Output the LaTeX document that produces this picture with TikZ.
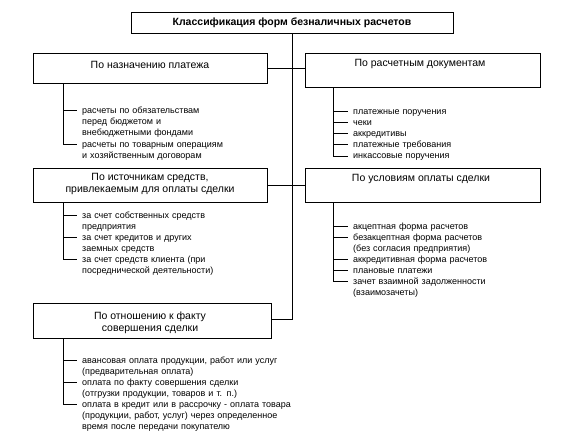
\documentclass[tikz,border=0pt]{standalone}
\usepackage{fontspec}
\setmainfont{Liberation Sans}
\usetikzlibrary{calc}
\newcommand\itick[2]{\draw[conn] ($(#1 |- #2.base)+(0,-2.7)$) -- ($(#2.base west)+(-5,-2.7)$);}
\begin{document}
\begin{tikzpicture}[x=1pt,y=-1pt,
  box/.style={draw, line width=0.9pt, inner sep=0pt, anchor=north west},
  ttl/.style={font=\fontsize{10.5}{12.5}\selectfont, align=center, inner sep=0pt},
  itm/.style={font=\fontsize{9}{11}\selectfont, text width=240pt, align=left, inner sep=0pt, anchor=base west},
  conn/.style={line width=0.8pt}]
\useasboundingbox (0,0) rectangle (574,444);

% main box
\node[box, anchor=center, minimum width=322pt, minimum height=21pt,
      font=\bfseries\fontsize{10.5}{12}\selectfont] (top) at (292,22.5) {Классификация форм безналичных расчетов};

% category boxes
\node[box, minimum width=234pt, minimum height=30pt] (b1) at (33,53) {};
\node[box, minimum width=235pt, minimum height=34pt] (b2) at (305,53) {};
\node[box, minimum width=234pt, minimum height=34pt] (b3) at (33,168) {};
\node[box, minimum width=235pt, minimum height=34pt] (b4) at (305,168) {};
\node[box, minimum width=238pt, minimum height=35pt] (b5) at (33,303) {};

\node[ttl] (t1) at (150,65) {По назначению платежа};
\node[ttl] (t2) at (420,63.5) {По расчетным документам};
\node[ttl] (t3) at (150,184) {По источникам средств,\\привлекаемым для оплаты сделки};
\node[ttl] (t4) at (421,179) {По условиям оплаты сделки};
\node[ttl, font=\fontsize{10.5}{12}\selectfont] (t5) at (150,323) {По отношению к факту\\совершения сделки};

% trunk and branches
\coordinate (j5) at (292,319);
\draw[conn] (top.south) -- (j5) -- (j5 -| b5.east);
\draw[conn] (b1.east) -- (b2.west |- b1.east);
\draw[conn] (b3.east) -- (b4.west |- b3.east);

% vertical guide coordinates
\coordinate (vl) at (63,0);
\coordinate (vr) at (333,0);

% list 1
\node[itm] (i11) at (82,113.5) {расчеты по обязательствам\\перед бюджетом и\\внебюджетными фондами};
\node[itm] (i12) at (82,147.5) {расчеты по товарным операциям\\и хозяйственным договорам};
\draw[conn] (vl |- b1.south) |- ($(i12.base west)+(-5,-2.7)$);
\itick{vl}{i11}

% list 2
\node[itm] (i21) at (353,114.5) {платежные поручения};
\node[itm] (i22) at (353,125.5) {чеки};
\node[itm] (i23) at (353,136.5) {аккредитивы};
\node[itm] (i24) at (353,147.5) {платежные требования};
\node[itm] (i25) at (353,159) {инкассовые поручения};
\draw[conn] (vr |- b2.south) |- ($(i25.base west)+(-5,-2.7)$);
\itick{vr}{i21}\itick{vr}{i22}\itick{vr}{i23}\itick{vr}{i24}

% list 3
\node[itm] (i31) at (82,218.5) {за счет собственных средств\\предприятия};
\node[itm] (i32) at (82,240.5) {за счет кредитов и других\\заемных средств};
\node[itm] (i33) at (82,262) {за счет средств клиента (при\\посреднической деятельности)};
\draw[conn] (vl |- b3.south) |- ($(i33.base west)+(-5,-2.7)$);
\itick{vl}{i31}\itick{vl}{i32}

% list 4
\node[itm] (i41) at (353,229.5) {акцептная форма расчетов};
\node[itm] (i42) at (353,240.5) {безакцептная форма расчетов\\(без согласия предприятия)};
\node[itm] (i43) at (353,262) {аккредитивная форма расчетов};
\node[itm] (i44) at (353,273) {плановые платежи};
\node[itm] (i45) at (353,284) {зачет взаимной задолженности\\(взаимозачеты)};
\draw[conn] (vr |- b4.south) |- ($(i45.base west)+(-5,-2.7)$);
\itick{vr}{i41}\itick{vr}{i42}\itick{vr}{i43}\itick{vr}{i44}

% list 5
\node[itm] (i51) at (82,363.5) {авансовая оплата продукции, работ или услуг\\(предварительная оплата)};
\node[itm] (i52) at (82,385.5) {оплата по факту совершения сделки\\(отгрузки продукции, товаров и т. п.)};
\node[itm] (i53) at (82,407.5) {оплата в кредит или в рассрочку - оплата товара\\(продукции, работ, услуг) через определенное\\время после передачи покупателю};
\draw[conn] (vl |- b5.south) |- ($(i53.base west)+(-5,-2.7)$);
\itick{vl}{i51}\itick{vl}{i52}
\end{tikzpicture}
\end{document}
